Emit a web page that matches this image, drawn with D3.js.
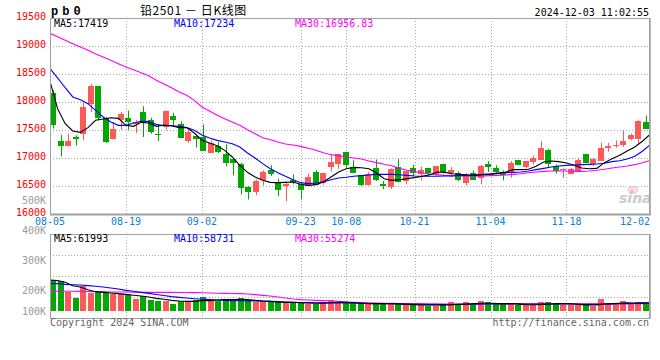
<!DOCTYPE html>
<html>
<head>
<meta charset="utf-8">
<script src="https://cdn.jsdelivr.net/npm/d3@7"></script>
<style>
  body { margin: 0; background: #fff; }
  svg { display: block; background: #fff; }
  text { font-family: "DejaVu Sans Mono", monospace; font-size: 10px; }
</style>
</head>
<body>
<svg id="chart" width="660" height="360"></svg>
<script>
//
// Data
//

const dates = [
  '08-05','08-06','08-07','08-08','08-09','08-12','08-13','08-14','08-15','08-16',
  '08-19','08-20','08-21','08-22','08-23','08-26','08-27','08-28','08-29','08-30',
  '09-02','09-03','09-04','09-05','09-06','09-09','09-10','09-11','09-12','09-13',
  '09-18','09-19','09-20','09-23','09-24','09-25','09-26','09-27','09-30','10-08',
  '10-09','10-10','10-11','10-14','10-15','10-16','10-17','10-18','10-21','10-22',
  '10-23','10-24','10-25','10-28','10-29','10-30','10-31','11-01','11-04','11-05',
  '11-06','11-07','11-08','11-11','11-12','11-13','11-14','11-15','11-18','11-19',
  '11-20','11-21','11-22','11-25','11-26','11-27','11-28','11-29','12-02','12-03'
];

const open = [
  18160,17300,17210,17370,17425,17960,18280,17710,17335,17670,
  17710,17615,17820,17685,17420,17555,17745,17615,17305,17385,
  17370,17090,17210,17065,16990,16885,16480,16395,16600,16790,
  16555,16495,16600,16530,16500,16745,16555,16835,16900,17100,
  16840,16690,16510,16815,16530,16480,16835,16590,16820,16720,
  16820,16690,16900,16740,16730,16555,16730,16650,16885,16815,
  16750,16750,16960,16840,16930,16970,17145,16855,16800,16720,
  16760,17065,16900,16945,17175,17210,17225,17345,17335,17645
];
const high = [
  18210,17415,17435,17405,18000,18320,18285,17730,17645,17820,
  17850,17675,17925,17720,17585,17850,17805,17655,17525,17390,
  17600,17315,17285,17245,16995,16910,16495,16615,16780,16870,
  16630,16555,16710,16570,16720,16780,16735,17075,17075,17100,
  16960,16690,16745,16975,16590,16815,16980,16765,16880,16850,
  16825,16855,16900,16840,16760,16730,16780,16880,16945,16870,
  16780,16945,16960,16945,17045,17300,17165,16885,16815,16825,
  17005,17075,17005,17275,17270,17315,17495,17435,17675,17760
];
const low = [
  17525,17030,17205,17225,17315,17820,17670,17270,17330,17505,
  17505,17445,17375,17435,17305,17505,17565,17355,17270,17185,
  17125,17090,17090,16850,16690,16350,16260,16335,16510,16680,
  16320,16230,16530,16260,16500,16520,16525,16760,16805,16825,
  16730,16500,16510,16590,16445,16445,16565,16530,16675,16600,
  16665,16680,16720,16660,16590,16510,16610,16530,16750,16710,
  16600,16650,16870,16810,16885,16970,16840,16720,16645,16710,
  16760,16910,16855,16945,17110,17185,17195,17315,17255,17525
];
const close = [
  17585,17210,17295,17335,17905,18285,17710,17285,17525,17790,
  17645,17645,17645,17465,17405,17840,17685,17355,17460,17340,
  17125,17270,17110,16910,16910,16465,16395,16585,16745,16710,
  16425,16540,16570,16425,16655,16525,16730,16920,17065,16870,
  16735,16510,16720,16600,16500,16800,16565,16760,16735,16780,
  16740,16850,16750,16780,16615,16715,16615,16850,16840,16750,
  16690,16905,16870,16945,17000,17180,16895,16770,16810,16805,
  16970,16910,16980,17185,17210,17240,17300,17405,17655,17525
];

const ma5 = [
  18370,17880,17613,17482,17458,17542,17673,17696,17720,17708,
  17583,17565,17637,17625,17565,17589,17577,17542,17542,17446,
  17315,17268,17220,17137,17018,16869,16744,16661,16601,16565,
  16560,16565,16571,16530,16512,16524,16571,16661,16750,16809,
  16833,16827,16809,16732,16631,16601,16613,16631,16649,16673,
  16702,16750,16744,16720,16708,16696,16690,16702,16708,16726,
  16750,16792,16792,16798,16851,16929,16946,16935,16911,16869,
  16821,16809,16815,16917,16988,17048,17125,17196,17300,17419
];
const ma10 = [
  18595,18430,18255,18090,18042,17970,17851,17732,17643,17583,
  17583,17625,17655,17649,17601,17577,17577,17565,17542,17494,
  17411,17357,17315,17286,17256,17196,17089,17000,16899,16809,
  16738,16673,16613,16560,16542,16554,16577,16613,16643,16655,
  16673,16685,16696,16708,16708,16708,16702,16690,16679,16673,
  16673,16673,16679,16679,16690,16690,16702,16708,16720,16732,
  16738,16744,16750,16768,16792,16815,16839,16857,16869,16875,
  16881,16887,16893,16905,16935,16952,16982,17030,17120,17234
];
const ma30 = [
  19227,19167,19101,19041,18982,18922,18857,18803,18744,18684,
  18625,18577,18524,18470,18387,18321,18256,18178,18119,18030,
  17911,17839,17762,17702,17643,17583,17506,17435,17363,17327,
  17286,17250,17232,17208,17173,17137,17095,17059,17042,17018,
  17000,16982,16946,16917,16887,16863,16815,16780,16756,16732,
  16714,16702,16690,16685,16679,16673,16673,16679,16685,16690,
  16696,16708,16720,16738,16750,16762,16768,16768,16768,16762,
  16762,16768,16780,16798,16821,16839,16857,16881,16915,16956.83
];

const volume = [
  232000,225000,140000,100000,187000,137000,150000,137000,127000,127000,
  120000,90000,112000,82000,75000,77000,52000,75000,77000,82000,
  107000,77000,75000,90000,77000,97000,82000,70000,70000,70000,
  65000,65000,65000,62000,52000,52000,70000,80000,70000,57000,
  57000,57000,57000,57000,57000,52000,50000,50000,45000,45000,
  40000,40000,50000,65000,45000,65000,45000,75000,65000,50000,
  50000,60000,45000,45000,45000,65000,65000,60000,45000,45000,
  45000,52000,40000,90000,60000,55000,75000,55000,65000,60000
];
const vma5 = [
  232000,228000,215000,190000,180000,160000,145000,140000,135000,130000,
  125000,118000,112000,105000,95000,88000,80000,75000,72000,72000,
  78000,78000,82000,85000,85000,85000,85000,80000,75000,72000,
  68000,65000,65000,62000,60000,58000,58000,62000,65000,65000,
  62000,58000,55000,55000,55000,55000,52000,50000,47000,45000,
  45000,45000,45000,48000,50000,52000,55000,58000,58000,55000,
  55000,55000,50000,47000,47000,50000,52000,55000,55000,52000,
  48000,45000,45000,52000,55000,58000,62000,60000,62000,61993
];
const vma10 = [
  207000,205000,200000,197000,195000,190000,186000,180000,172000,165000,
  155000,148000,140000,132000,124000,116000,108000,102000,97000,92000,
  88000,85000,82000,80000,78000,77000,76000,75000,74000,72000,
  70000,68000,66000,64000,63000,62000,61000,60000,60000,60000,
  60000,58000,56000,55000,55000,55000,53000,52000,50000,49000,
  48000,48000,48000,49000,50000,50000,51000,52000,53000,53000,
  53000,54000,54000,53000,52000,52000,52000,52000,52000,52000,
  51000,50000,50000,52000,53000,54000,55000,56000,57000,58731
];
const vma30 = [
  145000,150000,148000,148000,147000,146000,145000,145000,143000,142000,
  142000,141000,140000,140000,140000,140000,140000,139000,139000,138000,
  137000,135000,133000,132000,131000,130000,127000,123000,117000,112000,
  105000,97000,90000,85000,82000,80000,78000,75000,72000,68000,
  65000,63000,62000,60000,58000,57000,56000,55000,55000,55000,
  54000,54000,53000,53000,53000,53000,53000,53000,53000,54000,
  54000,54000,54000,54000,54000,54000,54000,54000,54000,54000,
  54000,54000,54000,54000,55000,55000,55000,55000,55000,55274
];

const tickDates = ['08-05','08-19','09-02','09-23','10-08','10-21','11-04','11-18','12-02'];
const priceTicks = [19500, 19000, 18500, 18000, 17500, 17000, 16500, 16000];
const volTicks = [500000, 400000, 300000, 200000, 100000];
const volTickLabels = ['500K', '400K', '300K', '200K', '100K'];

//
// Configuration
//

const colorUp = '#ff5858';
const colorDown = '#00a800';
const colorGrid = '#aaa';
const colorBorder = '#a0a0a0';
const maColors = ['#000', '#0000ff', '#ff00ff'];

const left = 50, right = 650;
const priceTop = 18, priceBottom = 214;
const volTop = 234, volBottom = 318, volBase = 311;

const svg = d3.select('#chart');

// candles sit in bands, averages and grid on points
const x = d3.scaleBand().domain(dates).range([left, right])
    .paddingInner(0.2).paddingOuter(0.1).align(0);
const xp = d3.scalePoint().domain(dates).range([left, right]);
const y = d3.scaleLinear().domain([16000, 19500]).range([priceBottom, priceTop]);
const yv = d3.scaleLinear().domain([0, 577500]).range([volBase, volTop]);
const yvLabel = d3.scaleLinear().domain([100000, 200000, 500000]).range([315, 294, 204]);

const rows = dates.map((d, i) => ({
  date: d, open: open[i], high: high[i], low: low[i], close: close[i], volume: volume[i]
}));
const colorOf = (r) => r.close >= r.open ? colorUp : colorDown;

const defs = svg.append('defs');
defs.append('clipPath').attr('id', 'clipPrice')
  .append('rect').attr('x', left).attr('y', priceTop)
  .attr('width', right - left).attr('height', priceBottom - priceTop);
defs.append('clipPath').attr('id', 'clipVol')
  .append('rect').attr('x', left).attr('y', volTop)
  .attr('width', right - left).attr('height', volBottom - volTop);

//
// Grid
//

const innerDates = tickDates.slice(1, -1);

function drawVGrid(top, bottom) {
  svg.append('g').selectAll('line').data(innerDates).join('line')
    .attr('x1', d => Math.round(xp(d)) + 0.5).attr('x2', d => Math.round(xp(d)) + 0.5)
    .attr('y1', top).attr('y2', bottom)
    .attr('stroke', colorGrid).attr('stroke-dasharray', '1,2');
}

svg.append('g').selectAll('line').data(priceTicks.slice(1, -1)).join('line')
  .attr('x1', left).attr('x2', right)
  .attr('y1', d => Math.round(y(d)) + 0.5).attr('y2', d => Math.round(y(d)) + 0.5)
  .attr('stroke', colorGrid).attr('stroke-dasharray', '1,2');
drawVGrid(priceTop, priceBottom);

svg.append('g').selectAll('line').data(d3.range(1, 4)).join('line')
  .attr('x1', left).attr('x2', right)
  .attr('y1', k => Math.round(volTop + k * (volBottom - volTop) / 4) + 0.5)
  .attr('y2', k => Math.round(volTop + k * (volBottom - volTop) / 4) + 0.5)
  .attr('stroke', colorGrid).attr('stroke-dasharray', '1,2');
drawVGrid(volTop, volBottom);

//
// Watermark
//

const mark = svg.append('g').attr('opacity', 0.85);
mark.append('ellipse').attr('cx', 633).attr('cy', 190).attr('rx', 4.5).attr('ry', 3.5)
  .attr('fill', '#f8dcdc').attr('stroke', '#eeb6b6');
mark.append('circle').attr('cx', 632).attr('cy', 191).attr('r', 1.5).attr('fill', '#e8a8a8');
mark.append('text').attr('x', 619).attr('y', 203)
  .style('font-family', '"DejaVu Sans", sans-serif').style('font-size', '14px')
  .style('font-style', 'italic').style('font-weight', 'bold')
  .attr('fill', '#c4c4c4').text('sina');

//
// Candles
//

const candles = svg.append('g').attr('clip-path', 'url(#clipPrice)')
  .selectAll('g').data(rows).join('g');

candles.append('line')
  .attr('x1', d => Math.round(x(d.date)) + 3.5).attr('x2', d => Math.round(x(d.date)) + 3.5)
  .attr('y1', d => y(d.high)).attr('y2', d => y(d.low))
  .attr('stroke', colorOf);

candles.append('rect')
  .attr('x', d => Math.round(x(d.date)))
  .attr('y', d => y(Math.max(d.open, d.close)))
  .attr('width', x.bandwidth())
  .attr('height', d => Math.max(1, Math.abs(y(d.open) - y(d.close))))
  .attr('fill', colorOf).attr('shape-rendering', 'crispEdges');

const priceLine = d3.line().x((v, i) => xp(dates[i])).y(v => y(v));
svg.append('g').attr('clip-path', 'url(#clipPrice)')
  .selectAll('path').data([ma30, ma10, ma5]).join('path')
  .attr('d', priceLine).attr('fill', 'none')
  .attr('stroke', (s, i) => maColors[2 - i]).attr('stroke-width', 1.1);

//
// Volume
//

svg.append('g').attr('clip-path', 'url(#clipVol)')
  .selectAll('rect').data(rows).join('rect')
  .attr('x', d => Math.round(x(d.date)))
  .attr('y', d => yv(d.volume))
  .attr('width', x.bandwidth())
  .attr('height', d => yv(0) - yv(d.volume))
  .attr('fill', colorOf).attr('shape-rendering', 'crispEdges');

const volLine = d3.line().x((v, i) => xp(dates[i])).y(v => yv(v));
svg.append('g').attr('clip-path', 'url(#clipVol)')
  .selectAll('path').data([vma30, vma10, vma5]).join('path')
  .attr('d', volLine).attr('fill', 'none')
  .attr('stroke', (s, i) => maColors[2 - i]).attr('stroke-width', 1.1);

//
// Frames
//

[[priceTop, priceBottom], [volTop, volBottom]].forEach(([t, b]) => {
  svg.append('rect').attr('x', left + 0.5).attr('y', t + 0.5)
    .attr('width', right - left - 1).attr('height', b - t)
    .attr('fill', 'none').attr('stroke', colorBorder);
  svg.append('line').attr('x1', right).attr('x2', right).attr('y1', t).attr('y2', b + 1)
    .attr('stroke', colorBorder).attr('stroke-width', 1.5);
});
svg.append('line').attr('x1', left).attr('x2', right + 1)
  .attr('y1', priceBottom + 0.5).attr('y2', priceBottom + 0.5)
  .attr('stroke', colorBorder).attr('stroke-width', 2);

//
// Texts
//

svg.append('g').selectAll('text').data(priceTicks).join('text')
  .attr('x', 46).attr('y', d => y(d) + 1.5)
  .attr('text-anchor', 'end').attr('fill', '#f00').text(d => d);

svg.append('g').selectAll('text').data(volTicks).join('text')
  .attr('x', 46).attr('y', (d) => yvLabel(d))
  .attr('text-anchor', 'end').attr('fill', '#9a9a9a')
  .text((d, i) => volTickLabels[i]);

svg.append('g').selectAll('text').data(tickDates).join('text')
  .attr('x', d => Math.min(xp(d), right - 15)).attr('y', 225)
  .attr('text-anchor', 'middle').attr('fill', '#0a80d6').text(d => d);

const maNames = ['MA5', 'MA10', 'MA30'];
const maX = [54, 174, 295];
[ma5, ma10, ma30].forEach((s, i) => {
  svg.append('text').attr('x', maX[i]).attr('y', 27).attr('fill', maColors[i])
    .text(maNames[i] + ':' + s[s.length - 1]);
});
[vma5, vma10, vma30].forEach((s, i) => {
  svg.append('text').attr('x', maX[i]).attr('y', 242).attr('fill', maColors[i])
    .text(maNames[i] + ':' + s[s.length - 1]);
});

svg.append('text').attr('x', 51).attr('y', 14.5)
  .style('font-family', '"Liberation Mono", monospace').style('font-size', '12px')
  .style('font-weight', 'bold').style('letter-spacing', '4px')
  .text('pb0');

svg.append('text').attr('x', 140).attr('y', 15)
  .style('font-family', '"Noto Sans CJK SC", sans-serif').style('font-size', '12px')
  .style('letter-spacing', '0.6px')
  .text('铅2501 － 日K线图');

svg.append('text').attr('x', 649).attr('y', 16).attr('text-anchor', 'end')
  .text('2024-12-03 11:02:55');

svg.append('text').attr('x', 50).attr('y', 326).attr('fill', '#666')
  .text('Copyright 2024 SINA.COM');
svg.append('text').attr('x', 649).attr('y', 326).attr('text-anchor', 'end').attr('fill', '#666')
  .text('http://finance.sina.com.cn');
</script>
</body>
</html>
